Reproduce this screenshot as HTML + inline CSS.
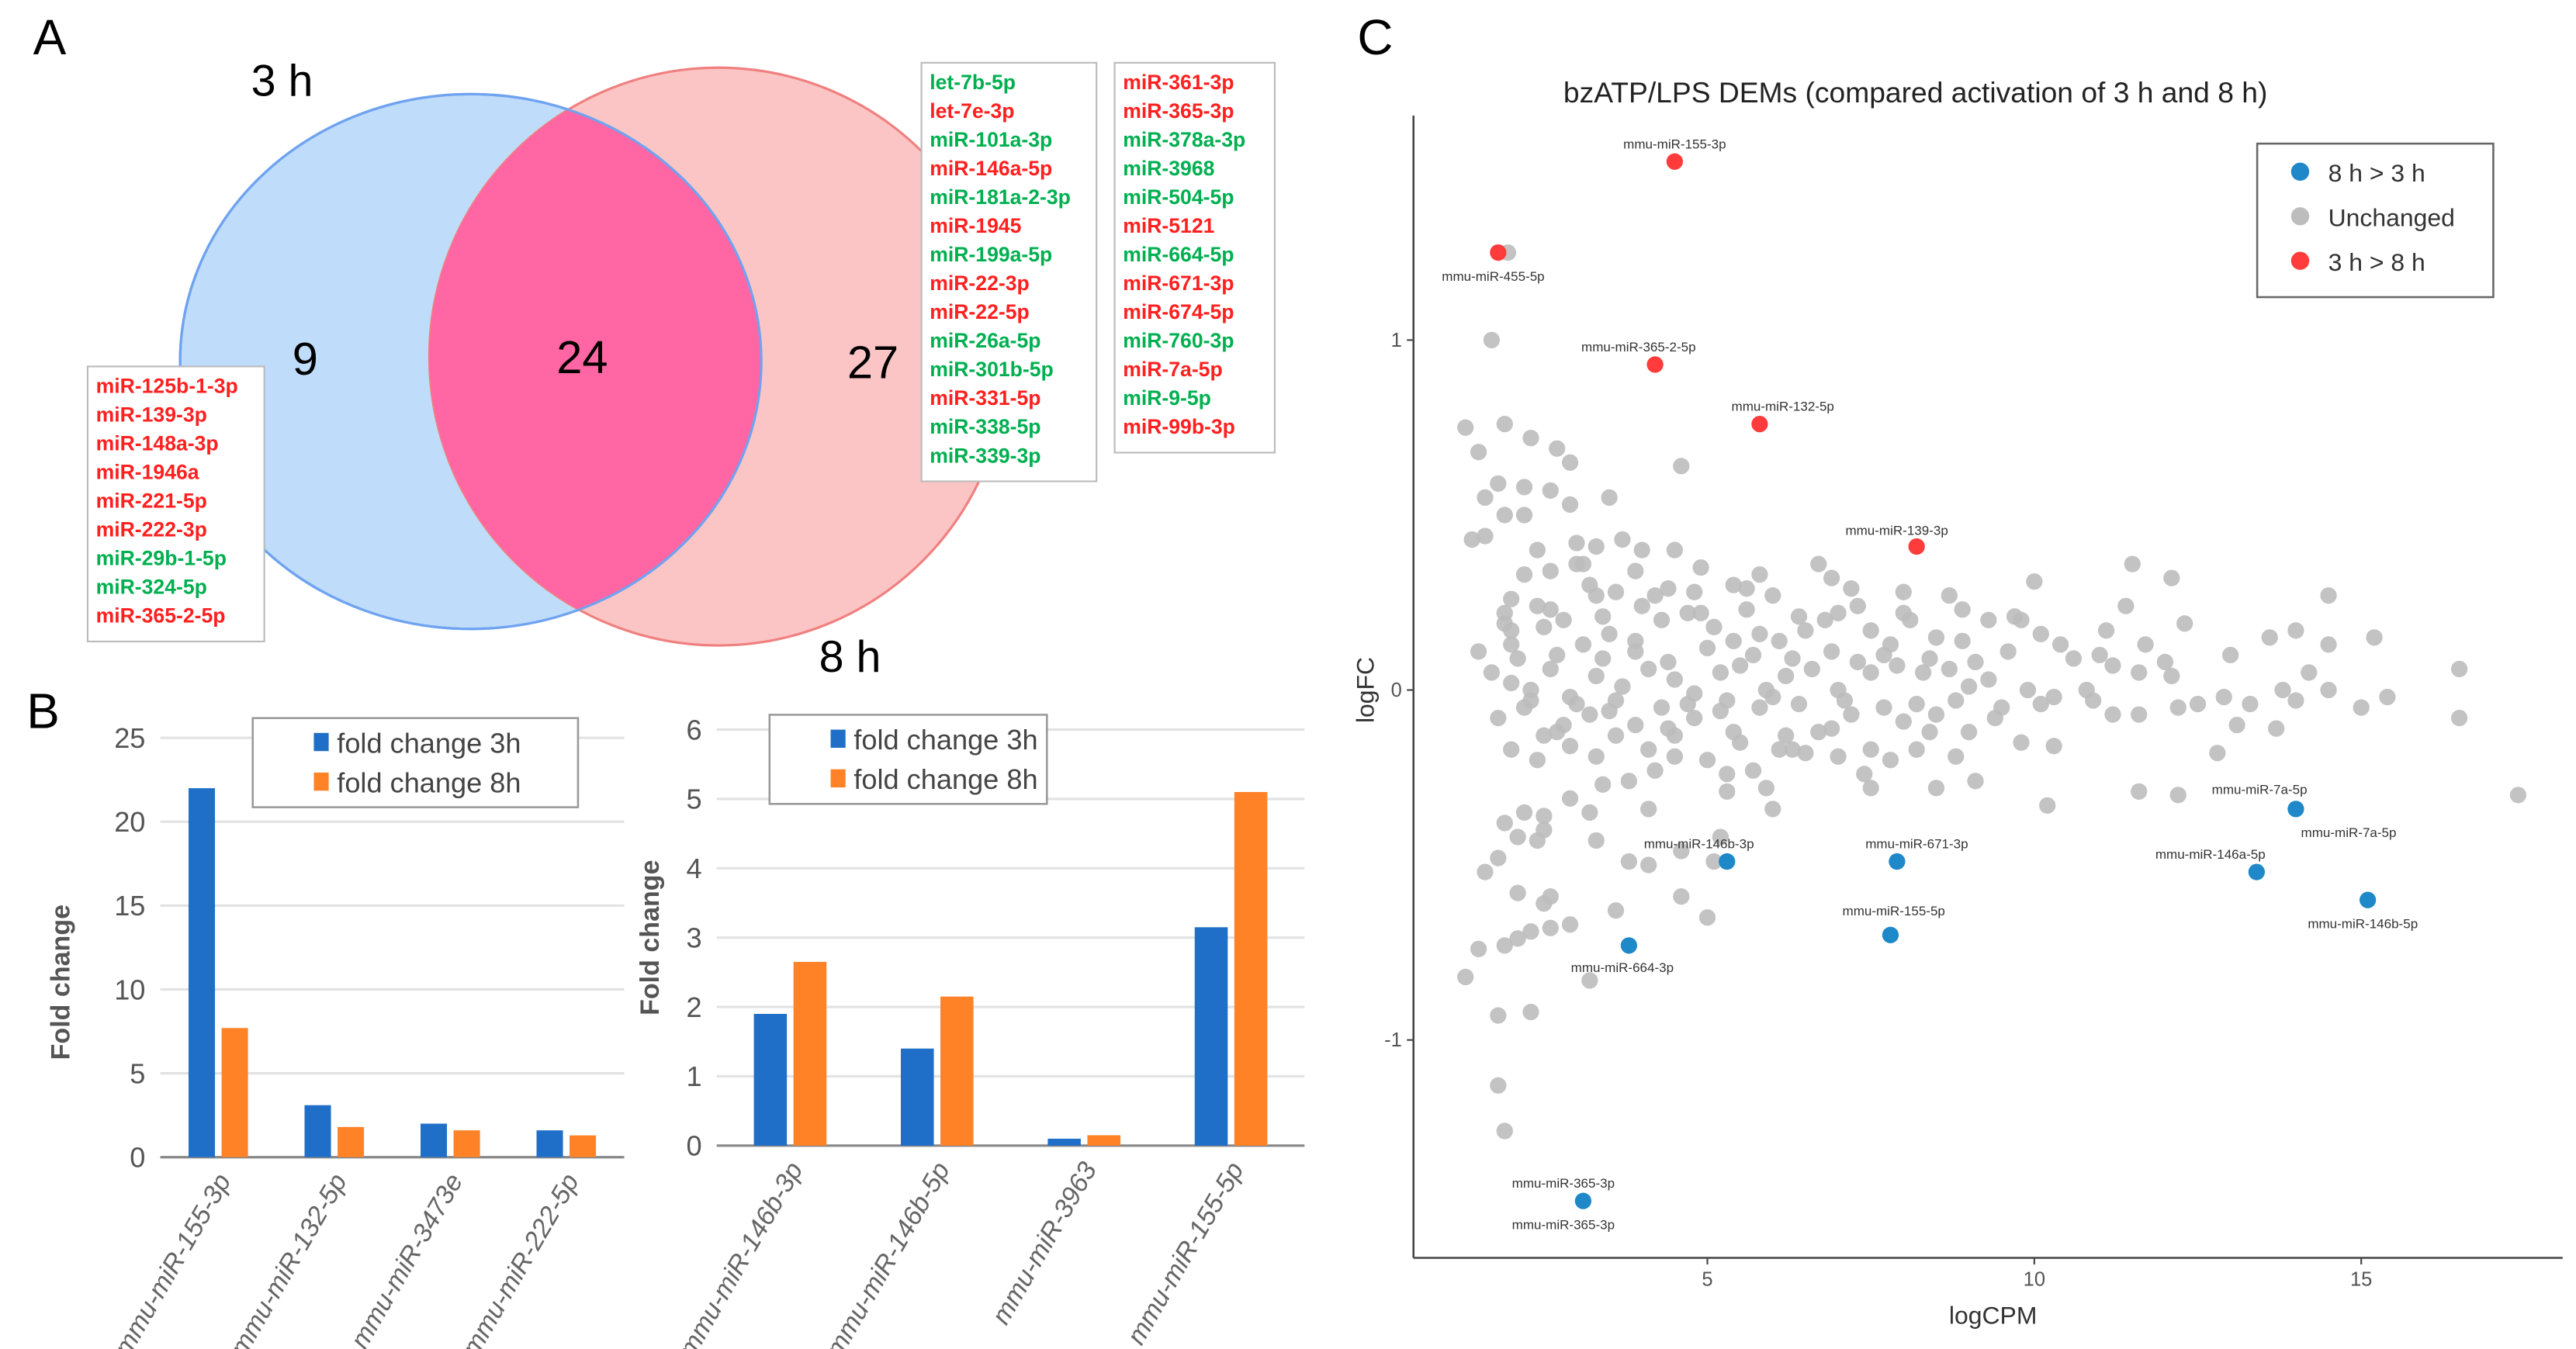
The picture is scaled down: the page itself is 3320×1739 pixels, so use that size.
<!DOCTYPE html>
<html><head><meta charset="utf-8"><style>
html,body{margin:0;padding:0;background:#fff;}
svg{display:block;font-family:"Liberation Sans",sans-serif;}
</style></head><body>
<svg id="fig" width="3320" height="1739" viewBox="0 0 1560 817.2" xmlns="http://www.w3.org/2000/svg">
<rect x="0" y="0" width="1560" height="818" fill="#fff"/>
<g id="venn">
<text x="20" y="33" font-size="30">A</text>
<ellipse cx="285" cy="219" rx="176" ry="162" fill="#bfdcfa" stroke="#6fa3f0" stroke-width="1.5"/>
<circle cx="435" cy="216" r="175" fill="#fcc5c5" stroke="#f08080" stroke-width="1.5"/>
<clipPath id="cp"><ellipse cx="285" cy="219" rx="176" ry="162"/></clipPath>
<circle cx="435" cy="216" r="175" fill="#ff66a3" clip-path="url(#cp)"/>
<ellipse cx="285" cy="219" rx="176" ry="162" fill="none" stroke="#6fa3f0" stroke-width="1.5"/>
<text x="152" y="58" font-size="27">3 h</text>
<text x="496" y="407" font-size="27">8 h</text>
<text x="177" y="227" font-size="28">9</text>
<text x="337" y="226" font-size="28">24</text>
<text x="513" y="229" font-size="28">27</text>
<text x="822" y="33" font-size="30">C</text>
<text x="16" y="441" font-size="30">B</text>
</g>
<g id="lists"></g>
<g id="barL"></g>
<g id="barR"></g>
<g id="scatter"></g>
</svg>
<script>
const NS="http://www.w3.org/2000/svg";
function mk(tag,attrs,parent,txt){const e=document.createElementNS(NS,tag);for(const k in attrs)e.setAttribute(k,attrs[k]);if(txt!==undefined)e.textContent=txt;parent.appendChild(e);return e;}
const R="#ff2020",G="#00b050";
const listLeft=[["miR-125b-1-3p",R],["miR-139-3p",R],["miR-148a-3p",R],["miR-1946a",R],["miR-221-5p",R],["miR-222-3p",R],["miR-29b-1-5p",G],["miR-324-5p",G],["miR-365-2-5p",R]];
const listMid=[["let-7b-5p",G],["let-7e-3p",R],["miR-101a-3p",G],["miR-146a-5p",R],["miR-181a-2-3p",G],["miR-1945",R],["miR-199a-5p",G],["miR-22-3p",R],["miR-22-5p",R],["miR-26a-5p",G],["miR-301b-5p",G],["miR-331-5p",R],["miR-338-5p",G],["miR-339-3p",G]];
const listRight=[["miR-361-3p",R],["miR-365-3p",R],["miR-378a-3p",G],["miR-3968",G],["miR-504-5p",G],["miR-5121",R],["miR-664-5p",G],["miR-671-3p",R],["miR-674-5p",R],["miR-760-3p",G],["miR-7a-5p",R],["miR-9-5p",G],["miR-99b-3p",R]];
const lists=document.getElementById('lists');
[[listLeft,53,222,107],[listMid,558,38,106],[listRight,675,38,97]].forEach(([l,x,y,w],i)=>{
  const b=mk('rect',{x:x,y:y,width:w,height:l.length*17.4+10,fill:'#fff',stroke:'#bbb','stroke-width':1},lists);
  
  
  l.forEach((it,j)=>{const t=mk('text',{x:x+5,y:y+16+j*17.4,'font-size':12.5,'font-weight':'bold',fill:it[1]},lists,it[0]);
    
    });
});
const catsL=["mmu-miR-155-3p","mmu-miR-132-5p","mmu-miR-3473e","mmu-miR-222-5p"];
const fc3L=[22,3.1,2.0,1.6];
const fc8L=[7.7,1.8,1.6,1.3];
const ticksL=[0,5,10,15,20,25];
const catsR=["mmu-miR-146b-3p","mmu-miR-146b-5p","mmu-miR-3963","mmu-miR-155-5p"];
const fc3R=[1.9,1.4,0.1,3.15];
const fc8R=[2.65,2.15,0.15,5.1];
const ticksR=[0,1,2,3,4,5,6];
function barChart(g,cats,a,b,ticks,x0,x1,y0,yTop,bw,legX,legY,legW,titleX,titleY){
  const max=ticks[ticks.length-1];
  const sy=v=>y0-(v/max)*(y0-yTop);
  ticks.forEach(t=>{
    if(t>0){const gl=mk('line',{x1:x0,x2:x1,y1:sy(t),y2:sy(t),stroke:'#e2e2e2','stroke-width':1.5},g);
    
    }
    const tl=mk('text',{x:x0-9,y:sy(t)+6,'font-size':17,fill:'#555','text-anchor':'end'},g,t);
    
    
  });
  const ax=mk('line',{x1:x0,x2:x1,y1:y0,y2:y0,stroke:'#888','stroke-width':1.5},g);
  
  
  const step=(x1-x0)/cats.length;
  cats.forEach((c,i)=>{
    const cx=x0+step*(i+0.5);
    const r1=mk('rect',{x:cx-bw-2,y:sy(a[i]),width:bw,height:y0-sy(a[i]),fill:'#1f6fc8'},g);
    
    
    const r2=mk('rect',{x:cx+2,y:sy(b[i]),width:bw,height:y0-sy(b[i]),fill:'#ff8226'},g);
    
    
    const lab=mk('text',{x:cx+8,y:y0+14,'font-size':16,'font-style':'italic',fill:'#666','text-anchor':'end',transform:`rotate(-60 ${cx+8} ${y0+14})`},g,c);
    
    
  });
  const yt=mk('text',{x:titleX,y:titleY,'font-size':16,fill:'#555','font-weight':'bold','text-anchor':'middle',transform:`rotate(-90 ${titleX} ${titleY})`},g,'Fold change');
  
  
  const lb=mk('rect',{x:legX,y:legY,width:legW,height:54,fill:'#fff',stroke:'#999','stroke-width':1.2},g);
  
  
  [['#1f6fc8','fold change 3h'],['#ff8226','fold change 8h']].forEach((e,i)=>{
    const sw=mk('rect',{x:legX+37,y:legY+9+i*24,width:9,height:11,fill:e[0]},g);
    
    
    const t=mk('text',{x:legX+51,y:legY+21+i*24,'font-size':17,fill:'#444'},g,e[1]);
    
    
  });
}
barChart(document.getElementById('barL'),catsL,fc3L,fc8L,ticksL,97,378,701,447,16,153,435,197,42,595);
barChart(document.getElementById('barR'),catsR,fc3R,fc8R,ticksR,434,790,694,442,20,466,433,168,399,568);
const grayX=[1.3,1.5,1.9,2.3,2.7,2.9,1.8,2.2,2.6,1.6,1.9,2.2,2.9,3.5,4.6,1.4,1.6,2.4,3.0,3.3,3.7,4.0,4.5,2.2,2.6,3.1,3.2,2.0,2.4,3.3,3.6,4.2,4.4,4.8,5.4,5.6,6.0,6.9,7.2,1.9,2.0,1.5,2.0,2.5,2.8,3.1,3.5,3.9,4.3,4.9,5.1,5.4,5.8,6.1,6.5,6.8,7.0,7.5,7.8,8.1,8.5,8.9,9.3,9.8,10.1,10.4,11.1,11.7,12.3,12.1,11.5,10.0,8.7,8.0,13.6,14.0,14.5,14.5,15.2,1.7,2.0,2.3,2.6,2.9,3.3,3.7,4.1,4.5,4.8,5.2,5.5,5.9,6.2,6.6,7.0,7.5,7.9,8.3,8.7,9.0,9.3,9.9,10.3,10.8,11.2,11.6,12.1,12.5,12.9,13.8,14.2,14.5,15.4,16.5,1.8,2.2,2.5,2.8,3.2,3.5,3.9,4.1,4.5,4.8,5.2,5.5,6.0,6.3,6.7,7.2,7.5,8.0,8.5,9.0,9.4,9.8,10.3,11.2,11.6,12.8,13.1,13.7,14.0,16.5,2.0,2.4,2.9,3.3,3.8,4.2,4.5,5.0,5.3,5.7,6.1,6.5,7.0,7.4,7.8,8.2,8.8,9.1,10.2,11.6,12.2,17.4,3.4,4.1,5.3,5.9,6.0,7.5,8.5,2.2,2.5,2.9,1.9,2.1,2.5,1.8,1.6,2.4,3.2,3.3,3.8,4.1,4.6,5.1,5.2,2.1,2.5,2.6,2.9,3.6,4.6,5.0,2.3,1.5,1.9,2.1,2.6,1.3,3.2,1.8,2.3,1.8,1.9,1.95,1.7,
2.1,2.7,3.4,3.9,4.4,5.0,5.7,6.3,6.9,7.3,7.7,8.4,9.1,9.6,10.6,11.0,12.0,13.0,2.3,3.0,3.6,4.3,4.7,5.3,5.8,6.4,7.1,7.7,8.2,8.8,9.5,10.1,10.9,12.2,13.3,15.0,1.9,2.6,3.4,4.0,4.7,5.6,6.4,7.3,8.0,8.9,9.7,11.4,2.7,3.6,4.4,5.4,6.2,6.9,8.4,3.0,3.9,4.9,5.8,6.7];
const grayY=[0.75,0.68,0.76,0.72,0.69,0.65,0.59,0.58,0.57,0.55,0.5,0.5,0.53,0.55,0.64,0.43,0.44,0.4,0.42,0.41,0.43,0.4,0.4,0.33,0.34,0.36,0.3,0.26,0.24,0.27,0.28,0.27,0.29,0.28,0.3,0.29,0.27,0.32,0.29,0.19,0.17,0.11,0.13,0.18,0.2,0.13,0.16,0.14,0.2,0.22,0.18,0.14,0.16,0.14,0.17,0.2,0.22,0.17,0.13,0.2,0.15,0.14,0.2,0.2,0.16,0.13,0.17,0.13,0.19,0.32,0.36,0.31,0.27,0.28,0.15,0.17,0.27,0.13,0.15,0.05,0.02,0.0,0.06,-0.02,0.04,0.01,0.06,0.03,-0.01,0.05,0.07,0.0,0.04,0.06,0.0,0.05,0.07,0.05,0.06,0.01,0.03,0.0,-0.02,0.0,0.07,0.05,0.04,-0.04,-0.02,0.0,0.05,0.0,-0.02,0.06,-0.08,-0.05,-0.13,-0.1,-0.07,-0.06,-0.1,-0.17,-0.13,-0.08,-0.06,-0.15,-0.02,-0.17,-0.12,-0.07,-0.17,-0.09,-0.07,-0.12,-0.08,-0.15,-0.16,-0.07,-0.07,-0.18,-0.1,-0.11,-0.03,-0.08,-0.17,-0.2,-0.16,-0.19,-0.26,-0.23,-0.19,-0.2,-0.24,-0.23,-0.17,-0.18,-0.19,-0.24,-0.2,-0.17,-0.19,-0.26,-0.33,-0.29,-0.3,-0.3,-0.27,-0.34,-0.29,-0.28,-0.34,-0.28,-0.28,-0.35,-0.36,-0.31,-0.38,-0.42,-0.4,-0.48,-0.52,-0.43,-0.35,-0.43,-0.49,-0.5,-0.46,-0.49,-0.42,-0.58,-0.61,-0.59,-0.67,-0.63,-0.59,-0.65,-0.69,-0.74,-0.73,-0.71,-0.68,-0.82,-0.83,-0.93,-0.92,-1.13,-1.26,1.25,1.0,
0.09,0.1,0.09,0.11,0.08,0.12,0.1,0.09,0.11,0.08,0.1,0.09,0.08,0.11,0.09,0.1,0.08,0.1,-0.03,-0.04,-0.03,-0.05,-0.04,-0.03,-0.05,-0.04,-0.03,-0.05,-0.04,-0.03,-0.05,-0.04,-0.03,-0.05,-0.04,-0.05,0.22,0.23,0.21,0.24,0.22,0.23,0.21,0.24,0.22,0.23,0.21,0.24,-0.12,-0.13,-0.11,-0.12,-0.13,-0.11,-0.12,0.36,0.34,0.35,0.33,0.36];
const redNames=["mmu-miR-155-3p","mmu-miR-455-5p","mmu-miR-365-2-5p","mmu-miR-132-5p","mmu-miR-139-3p"];
const redX=[4.5,1.8,4.2,5.8,8.2];
const redY=[1.51,1.25,0.93,0.76,0.41];
const blueNames=["mmu-miR-7a-5p","mmu-miR-146a-5p","mmu-miR-146b-5p","mmu-miR-146b-3p","mmu-miR-671-3p","mmu-miR-155-5p","mmu-miR-664-3p","mmu-miR-365-3p"];
const blueX=[14.0,13.4,15.1,5.3,7.9,7.8,3.8,3.1];
const blueY=[-0.34,-0.52,-0.6,-0.49,-0.49,-0.7,-0.73,-1.46];
const xTicks=[5,10,15];
const yTicks=[1,0,-1];
const sc=document.getElementById('scatter');
const sx=v=>836+v*39.6, syy=v=>418-v*212;
const axL=856, axB=762;
const a1=mk('line',{x1:axL,x2:axL,y1:70,y2:axB,stroke:'#444','stroke-width':1.2},sc);


const a2=mk('line',{x1:axL,x2:1552,y1:axB,y2:axB,stroke:'#444','stroke-width':1.2},sc);


xTicks.forEach(t=>{mk('line',{x1:sx(t),x2:sx(t),y1:axB,y2:axB+4,stroke:'#444'},sc);
  const l=mk('text',{x:sx(t),y:axB+17,'font-size':12,fill:'#555','text-anchor':'middle'},sc,t);
  
  });
yTicks.forEach(t=>{mk('line',{x1:axL-4,x2:axL,y1:syy(t),y2:syy(t),stroke:'#444'},sc);
  const l=mk('text',{x:axL-7,y:syy(t)+4,'font-size':12,fill:'#555','text-anchor':'end'},sc,t);
  
  });
grayX.forEach((x,i)=>{const c=mk('circle',{cx:sx(x),cy:syy(grayY[i]),r:5,fill:'#bdbdbd','fill-opacity':0.9},sc);
  
  });
function labeled(xs,ys,names,col,nm,offs){
  xs.forEach((x,i)=>{const c=mk('circle',{cx:sx(x),cy:syy(ys[i]),r:5,fill:col},sc);
    
    
    const o=offs[i];
    const t=mk('text',{x:sx(x)+o[0],y:syy(ys[i])+o[1],'font-size':8,fill:'#333','text-anchor':'middle'},sc,names[i]);
    
    });
}
labeled(redX,redY,redNames,'#ff3b3b','point-3h-gt-8h',[[0,-8],[-3,17],[-10,-8],[14,-8],[-12,-7]]);
labeled(blueX,blueY,blueNames,'#1e88c8','point-8h-gt-3h',[[-22,-9],[-28,-8],[-3,17],[-17,-8],[12,-8],[2,-12],[-4,16],[-12,17]]);
const extra=mk('text',{x:sx(14.0)+32,y:syy(-0.34)+17,'font-size':8,fill:'#333','text-anchor':'middle'},sc,'mmu-miR-7a-5p');


const extra2=mk('text',{x:sx(3.1)-12,y:syy(-1.46)-8,'font-size':8,fill:'#333','text-anchor':'middle'},sc,'mmu-miR-365-3p');


const ttl=mk('text',{x:1160,y:62,'font-size':17.5,fill:'#222','text-anchor':'middle'},sc,'bzATP/LPS DEMs (compared activation of 3 h and 8 h)');


const xl=mk('text',{x:1207,y:802,'font-size':15,fill:'#333','text-anchor':'middle'},sc,'logCPM');


const yl=mk('text',{x:832,y:418,'font-size':15,fill:'#333','text-anchor':'middle',transform:'rotate(-90 832 418)'},sc,'logFC');


const lg=mk('rect',{x:1367,y:87,width:143,height:93,fill:'#fff',stroke:'#666','stroke-width':1.2},sc);


[['#1e88c8','8 h > 3 h'],['#bdbdbd','Unchanged'],['#ff3b3b','3 h > 8 h']].forEach((e,i)=>{
  const c=mk('circle',{cx:1393,cy:104+i*27,r:5.5,fill:e[0]},sc);
  
  
  const t=mk('text',{x:1410,y:110+i*27,'font-size':15,fill:'#333'},sc,e[1]);
  
  
});
</script>
</body></html>
